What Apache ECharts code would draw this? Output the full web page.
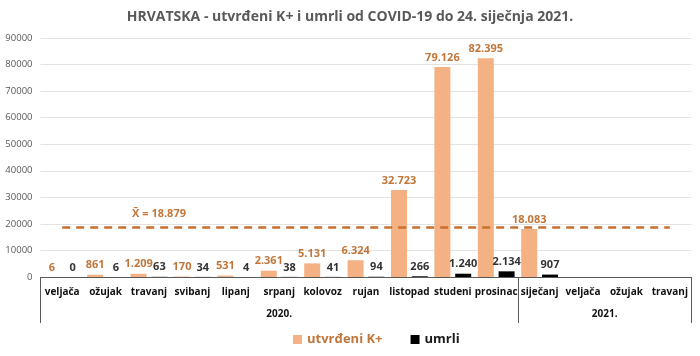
<!DOCTYPE html>
<html>
<head>
<meta charset="utf-8">
<script src="https://cdn.jsdelivr.net/npm/echarts@6/dist/echarts.min.js"></script>
<style>html,body{margin:0;padding:0;background:#fff}#c{width:700px;height:356px}</style>
</head>
<body>
<div id="c"></div>
<script>
const months = ['veljača','ožujak','travanj','svibanj','lipanj','srpanj','kolovoz','rujan','listopad','studeni','prosinac','siječanj','veljača','ožujak','travanj'];
const years = ['2020.', '2021.'];
const confirmed = [6, 861, 1209, 170, 531, 2361, 5131, 6324, 32723, 79126, 82395, 18083, null, null, null];
const deaths = [0, 6, 63, 34, 4, 38, 41, 94, 266, 1240, 2134, 907, null, null, null];
const meanValue = 18879;
const yTicks = {min: 0, max: 90000, interval: 10000};

const FONT = '"Open Sans", "Noto Sans", sans-serif';
const fmt = v => String(v).replace(/\B(?=(\d{3})+(?!\d))/g, '.');

// year axis: 31 boundary points (half-category steps)
const yearAxisData = [];
for (let i = 0; i <= 30; i++) yearAxisData.push('');
yearAxisData[11] = years[0];
yearAxisData[26] = years[1];

const chart = echarts.init(document.getElementById('c'));
chart.setOption({
  animation: false,
  title: {
    text: 'HRVATSKA - utvrđeni K+ i umrli od COVID-19 do 24. siječnja 2021.',
    left: 'center', top: 5,
    textStyle: {fontFamily: FONT, fontSize: 14, fontWeight: 'bold', color: '#595959'}
  },
  grid: {left: 40.5, right: 8.5, top: 38, bottom: 79},
  legend: {
    left: 288, top: 328,
    icon: 'rect', itemWidth: 9, itemHeight: 9, itemGap: 28,
    textStyle: {fontFamily: FONT, fontSize: 13, fontWeight: 'bold'},
    data: [
      {name: 'utvrđeni K+', textStyle: {color: '#C0763A'}},
      {name: 'umrli', textStyle: {color: '#1a1a1a'}}
    ]
  },
  xAxis: [
    {
      type: 'category', data: months, position: 'bottom',
      axisLine: {show: true, lineStyle: {color: '#595959', width: 1}},
      axisTick: {show: false},
      axisLabel: {interval: 0, margin: 10, color: '#111', fontFamily: FONT, fontSize: 10, fontWeight: 'bold'}
    },
    {
      type: 'category', data: yearAxisData, position: 'bottom', offset: 0,
      boundaryGap: false,
      axisLine: {show: false},
      axisTick: {show: true, length: 46, interval: (i) => i === 0 || i === 22 || i === 30, lineStyle: {color: '#595959'}},
      axisLabel: {interval: 0, margin: 32, color: '#111', fontFamily: FONT, fontSize: 10, fontWeight: 'bold'}
    }
  ],
  yAxis: {
    type: 'value', min: yTicks.min, max: yTicks.max, interval: yTicks.interval,
    axisLine: {show: false}, axisTick: {show: false},
    axisLabel: {color: '#595959', fontFamily: FONT, fontSize: 9.5, margin: 8, formatter: v => String(v)},
    splitLine: {lineStyle: {color: '#e3e3e3'}}
  },
  series: [
    {
      name: 'utvrđeni K+', type: 'bar', data: confirmed, barWidth: 16, barGap: '30%',
      itemStyle: {color: '#F4B183'},
      label: {show: true, position: 'top', distance: 4, formatter: p => fmt(p.value),
        color: '#C0763A', fontFamily: FONT, fontSize: 11, fontWeight: 'bold'}
    },
    {
      name: 'umrli', type: 'bar', data: deaths, barWidth: 16,
      itemStyle: {color: '#000'},
      label: {show: true, position: 'top', distance: 4, formatter: p => fmt(p.value),
        color: '#333', fontFamily: FONT, fontSize: 11, fontWeight: 'bold'}
    },
    {
      name: 'prosjek', type: 'line', data: [], silent: true,
      markLine: {
        silent: true, symbol: 'none',
        lineStyle: {color: '#C8702E', type: [8, 6], width: 2.5},
        label: {show: false},
        data: [[{coord: [0, meanValue]}, {coord: [14, meanValue]}]]
      },
      markPoint: {
        symbol: 'circle', symbolSize: 1, itemStyle: {color: 'rgba(0,0,0,0)'},
        label: {show: true, position: 'top', distance: 7, offset: [10, 0], formatter: 'X̄ = ' + fmt(meanValue),
          color: '#C0763A', fontFamily: FONT, fontSize: 11, fontWeight: 'bold'},
        data: [{coord: [2, meanValue]}]
      }
    }
  ]
});
</script>
</body>
</html>
